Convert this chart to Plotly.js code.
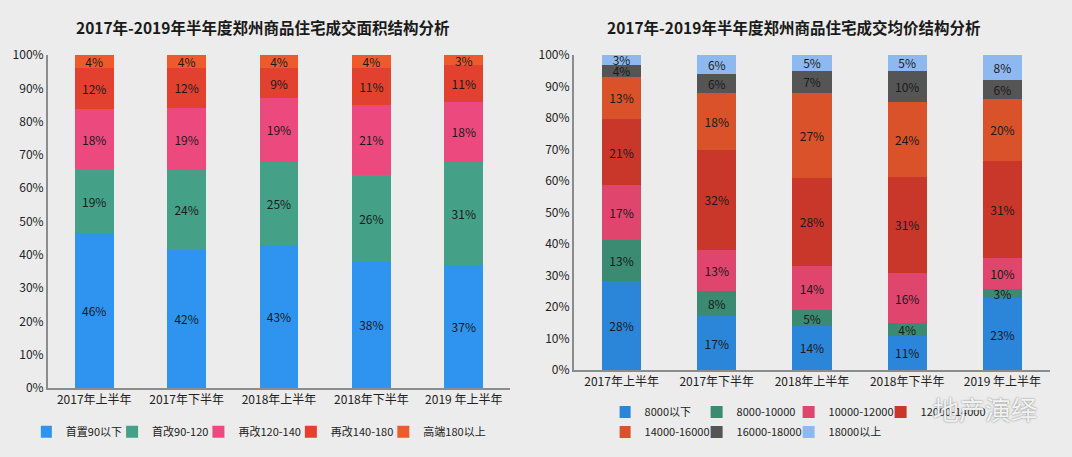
<!DOCTYPE html>
<html>
<head>
<meta charset="utf-8">
<script src="https://cdn.plot.ly/plotly-3.0.1.min.js"></script>
<style>
html,body{margin:0;padding:0;background:#ececec;}
#chart{width:1072px;height:457px;}
</style>
</head>
<body>
<div id="chart"></div>
<script>
// ---- data ----
const periods = ['2017年上半年', '2017年下半年', '2018年上半年', '2018年下半年', '2019 年上半年'];

// Left chart: transaction area structure (%)
const areaNames = ['首置90以下', '首改90-120', '再改120-140', '再改140-180', '高端180以上'];
const area90Below   = [46, 42, 43, 38, 37];
const area90to120   = [19, 24, 25, 26, 31];
const area120to140  = [18, 19, 19, 21, 18];
const area140to180  = [12, 12, 9, 11, 11];
const area180Above  = [4, 4, 4, 4, 3];
const areaColors = ['#2f94ef', '#45a088', '#ec4a7f', '#e3412f', '#ee5a2b'];

// Right chart: average price structure (%)
const priceNames = ['8000以下', '8000-10000', '10000-12000', '12000-14000', '14000-16000', '16000-18000', '18000以上'];
const price8000Below   = [28, 17, 14, 11, 23];
const price8to10k      = [13, 8, 5, 4, 3];
const price10to12k     = [17, 13, 14, 16, 10];
const price12to14k     = [21, 32, 28, 31, 31];
const price14to16k     = [13, 18, 27, 24, 20];
const price16to18k     = [4, 6, 7, 10, 6];
const price18000Above  = [3, 6, 5, 5, 8];
const priceColors = ['#2b86d9', '#3a8b72', '#df456d', '#c9372b', '#d9522a', '#555555', '#8db9f0'];

const yTickVals = [0, 10, 20, 30, 40, 50, 60, 70, 80, 90, 100];
const yTickText = ['0%', '10%', '20%', '30%', '40%', '50%', '60%', '70%', '80%', '90%', '100%'];

const areaSeries = [area90Below, area90to120, area120to140, area140to180, area180Above];
const priceSeries = [price8000Below, price8to10k, price10to12k, price12to14k, price14to16k, price16to18k, price18000Above];

const FONT = '"Noto Sans CJK SC", sans-serif';

const traces = [];
areaSeries.forEach((vals, i) => {
  traces.push({
    type: 'bar', x: periods, y: vals, name: areaNames[i],
    xaxis: 'x', yaxis: 'y', legend: 'legend',
    marker: {color: areaColors[i]}, width: 0.42,
    text: vals.map(v => v + '%'), textposition: 'inside', insidetextanchor: 'middle',
    constraintext: 'none', textfont: {family: FONT, size: 12, color: '#1a1a1a'}, hoverinfo: 'skip'
  });
});
priceSeries.forEach((vals, i) => {
  traces.push({
    type: 'bar', x: periods, y: vals, name: priceNames[i],
    xaxis: 'x2', yaxis: 'y2', legend: i < 4 ? 'legend2' : 'legend3',
    marker: {color: priceColors[i]}, width: 0.41,
    text: vals.map(v => v + '%'), textposition: 'inside', insidetextanchor: 'middle',
    constraintext: 'none', textfont: {family: FONT, size: 12, color: '#1a1a1a'}, hoverinfo: 'skip'
  });
});

const axisY = {
  range: [0, 100], tickvals: yTickVals, ticktext: yTickText,
  showgrid: false, zeroline: false, showline: true, linecolor: '#8c8c8c', linewidth: 2,
  ticks: '', tickfont: {family: FONT, size: 12, color: '#222'}, fixedrange: true
};
const axisX = {
  showgrid: false, zeroline: false, showline: true, linecolor: '#8c8c8c', linewidth: 2,
  ticks: '', tickfont: {family: FONT, size: 12, color: '#222'}, fixedrange: true
};
const legendBase = {
  orientation: 'h', bgcolor: 'rgba(0,0,0,0)', font: {family: FONT, size: 11, color: '#222'},
  itemwidth: 30, traceorder: 'normal', yanchor: 'middle', indentation: -15
};

const layout = {
  width: 1072, height: 457,
  margin: {l: 0, r: 0, t: 0, b: 0, autoexpand: false},
  paper_bgcolor: '#ececec', plot_bgcolor: 'rgba(0,0,0,0)',
  barmode: 'stack', barnorm: 'percent',
  showlegend: true,
  font: {family: FONT, color: '#222'},
  xaxis: Object.assign({}, axisX, {domain: [0.0448, 0.4757], anchor: 'y'}),
  yaxis: Object.assign({}, axisY, {domain: [0.151, 0.8796], anchor: 'x'}),
  xaxis2: Object.assign({}, axisX, {domain: [0.5354, 0.9795], anchor: 'y2'}),
  yaxis2: Object.assign({}, axisY, {domain: [0.1904, 0.8796], anchor: 'x2'}),
  legend: Object.assign({}, legendBase, {x: 0.248, xanchor: 'center', y: 0.055}),
  legend2: Object.assign({}, legendBase, {x: 0.578, xanchor: 'left', y: 0.0985, entrywidth: 62}),
  legend3: Object.assign({}, legendBase, {x: 0.578, xanchor: 'left', y: 0.0547, entrywidth: 62}),
  annotations: [
    {text: '<b>2017年-2019年半年度郑州商品住宅成交面积结构分析</b>', xref: 'paper', yref: 'paper',
     x: 0.245, y: 0.941, xanchor: 'center', yanchor: 'middle', showarrow: false,
     font: {family: FONT, size: 15.5, color: '#1a1a1a'}},
    {text: '<b>2017年-2019年半年度郑州商品住宅成交均价结构分析</b>', xref: 'paper', yref: 'paper',
     x: 0.741, y: 0.941, xanchor: 'center', yanchor: 'middle', showarrow: false,
     font: {family: FONT, size: 15.5, color: '#1a1a1a'}},
    {text: '地产演绎', xref: 'paper', yref: 'paper',
     x: 0.919, y: 0.107, xanchor: 'center', yanchor: 'middle', showarrow: false,
     font: {family: FONT, size: 26, color: 'rgba(255,255,255,0.9)', shadow: '0px 0px 2px #666'}}
  ],
  hovermode: false
};

Plotly.newPlot('chart', traces, layout, {displayModeBar: false, staticPlot: true});
</script>
</body>
</html>
